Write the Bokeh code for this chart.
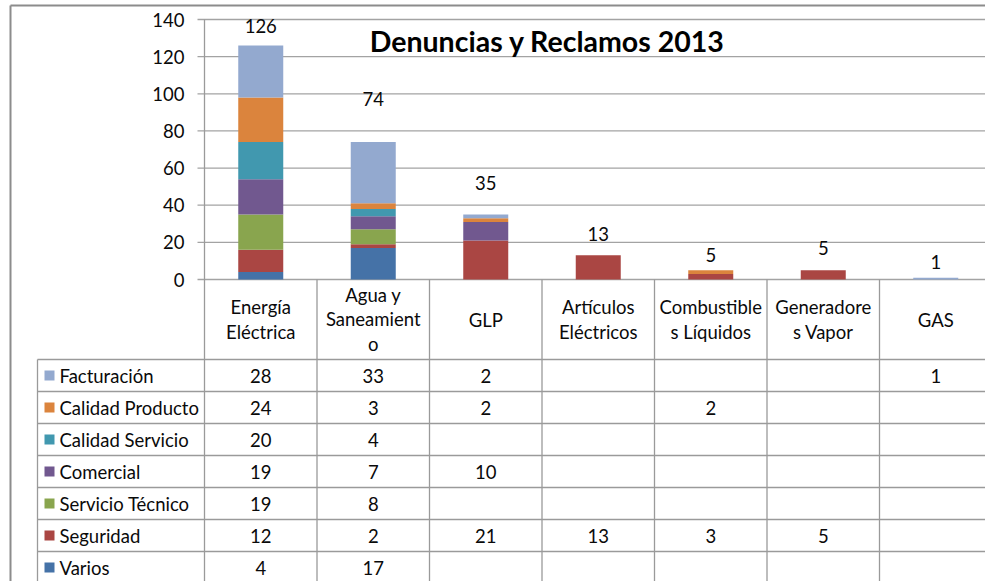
from bokeh.plotting import figure
from bokeh.models import Range1d, ColumnDataSource
from bokeh.core.properties import value
from bokeh.embed import file_html
from bokeh.resources import INLINE

# ---------------- data ----------------
categories = ["Energía Eléctrica", "Agua y Saneamiento", "GLP", "Artículos Eléctricos",
              "Combustibles Líquidos", "Generadores Vapor", "GAS"]
header_labels = ["Energía\nEléctrica", "Agua y\nSaneamient\no", "GLP", "Artículos\nEléctricos",
                 "Combustible\ns Líquidos", "Generadore\ns Vapor", "GAS"]

# stack order: bottom -> top
series_names = ["Varios", "Seguridad", "Servicio Técnico", "Comercial",
                "Calidad Servicio", "Calidad Producto", "Facturación"]
varios = [4, 17, None, None, None, None, None]
seguridad = [12, 2, 21, 13, 3, 5, None]
servicio_tecnico = [19, 8, None, None, None, None, None]
comercial = [19, 7, 10, None, None, None, None]
calidad_servicio = [20, 4, None, None, None, None, None]
calidad_producto = [24, 3, 2, None, 2, None, None]
facturacion = [28, 33, 2, None, None, None, 1]
series_values = [varios, seguridad, servicio_tecnico, comercial,
                 calidad_servicio, calidad_producto, facturacion]

y_ticks = [0, 20, 40, 60, 80, 100, 120, 140]
title_text = "Denuncias y Reclamos 2013"

# ---------------- style ----------------
colors = ["#4572A7", "#AA4643", "#89A54E", "#71588F", "#4198AF", "#DB843D", "#93A9CF"]
label_lift_px = [20, 43, 32, 21, 15, 22, 16]   # Excel label placement above each bar
FONT = "Lato"
TXT = "#0a0a0a"
GRID = "#a3a3a3"
LINE = "#9a9a9a"
TBL_FS = "18.5px"

W, H = 985, 581
PX_X0, COL_W = 204.0, 112.5         # plot area left edge, column width
PX_Y0, PX_PER_UNIT = 279.0, 260.0 / 140.0
ROW_TOP, ROW_H = 359.0, 32.0


def dx(px):
    return (px - PX_X0) / COL_W - 0.5


def dy(py):
    return (PX_Y0 - py) / PX_PER_UNIT


def du(py):
    return (py - ROW_TOP) / ROW_H


p = figure(width=W, height=H, x_range=Range1d(dx(0), dx(W)), y_range=Range1d(dy(H), dy(0)),
           x_axis_type=None, y_axis_type=None, toolbar_location=None, output_backend="svg",
           min_border=0, outline_line_color=None)
p.extra_y_ranges = {"tbl": Range1d(start=du(H), end=du(0))}
p.grid.visible = False
p.background_fill_color = "white"
p.border_fill_color = "white"

ncat = len(categories)
idx = list(range(ncat))

# ---------------- gridlines & axis ----------------
p.segment(x0=[dx(197)] * len(y_ticks), x1=[dx(W)] * len(y_ticks), y0=y_ticks, y1=y_ticks,
          line_color=GRID, line_width=1.3)
p.text(x=[dx(184)] * len(y_ticks), y=y_ticks, text=[str(t) for t in y_ticks],
       text_align="right", text_baseline="middle", text_font=value(FONT),
       text_font_size="18.5px", text_color=TXT)

# ---------------- stacked bars ----------------
base = [0.0] * ncat
for name, vals, col in zip(series_names, series_values, colors):
    xs, bots, tops = [], [], []
    for i, v in enumerate(vals):
        if v:
            xs.append(i)
            bots.append(base[i])
            tops.append(base[i] + v)
            base[i] += v
    p.vbar(x=xs, bottom=bots, top=tops, width=0.4, fill_color=col, line_color=None)

totals = [sum(v[i] or 0 for v in series_values) for i in idx]
p.text(x=idx, y=[t + lift / PX_PER_UNIT for t, lift in zip(totals, label_lift_px)],
       text=[str(t) for t in totals], text_align="center", text_baseline="middle",
       text_font=value(FONT), text_font_size="18.5px", text_color=TXT)

# title
p.text(x=[dx(547)], y=[dy(40)], text=[title_text], text_align="center", text_baseline="middle",
       text_font=value(FONT), text_font_style="bold", text_font_size="28.5px", text_color="#000000")

# ---------------- data table ----------------
nrows = len(series_names)
# vertical lines
p.segment(x0=[dx(PX_X0)], x1=[dx(PX_X0)], y0=[140], y1=[dy(H)], line_color=LINE, line_width=1.3)
bounds = [i + 0.5 for i in idx]
p.segment(x0=bounds, x1=bounds, y0=[0] * ncat, y1=[dy(H)] * ncat, line_color=LINE, line_width=1.3)
p.segment(x0=[dx(37)], x1=[dx(37)], y0=[0], y1=[du(H)], line_color=LINE, line_width=1.3,
          y_range_name="tbl")
# horizontal row lines
rows_b = list(range(nrows + 1))
p.segment(x0=[dx(37)] * len(rows_b), x1=[dx(W)] * len(rows_b), y0=rows_b, y1=rows_b,
          line_color=LINE, line_width=1.3, y_range_name="tbl")

# header labels
p.text(x=idx, y=[du(319)] * ncat, text=header_labels, text_align="center", text_baseline="middle",
       text_font=value(FONT), text_font_size=TBL_FS, text_color=TXT, text_line_height=1.12,
       y_range_name="tbl")

# rows: top row is the last series
row_names = series_names[::-1]
row_vals = series_values[::-1]
row_cols = colors[::-1]
row_c = [r + 0.5 for r in range(nrows)]
p.scatter(x=[dx(49)] * nrows, y=row_c, marker="square", size=10, fill_color=row_cols,
          line_color=None, y_range_name="tbl")
p.text(x=[dx(59)] * nrows, y=row_c, text=row_names, text_align="left", text_baseline="middle",
       text_font=value(FONT), text_font_size=TBL_FS, text_color=TXT, y_range_name="tbl")

cx, cy, ct = [], [], []
for r, vals in enumerate(row_vals):
    for i, v in enumerate(vals):
        if v is not None:
            cx.append(i)
            cy.append(r + 0.5)
            ct.append(str(v))
p.text(x=cx, y=cy, text=ct, text_align="center", text_baseline="middle",
       text_font=value(FONT), text_font_size=TBL_FS, text_color=TXT, y_range_name="tbl")

# outer chart-area border
p.segment(x0=[dx(10), dx(10)], x1=[dx(10), dx(W)], y0=[dy(5), dy(5)], y1=[dy(H), dy(5)],
          line_color="#8c8c8c", line_width=2)

open("out.html", "w").write(file_html(p, INLINE))
